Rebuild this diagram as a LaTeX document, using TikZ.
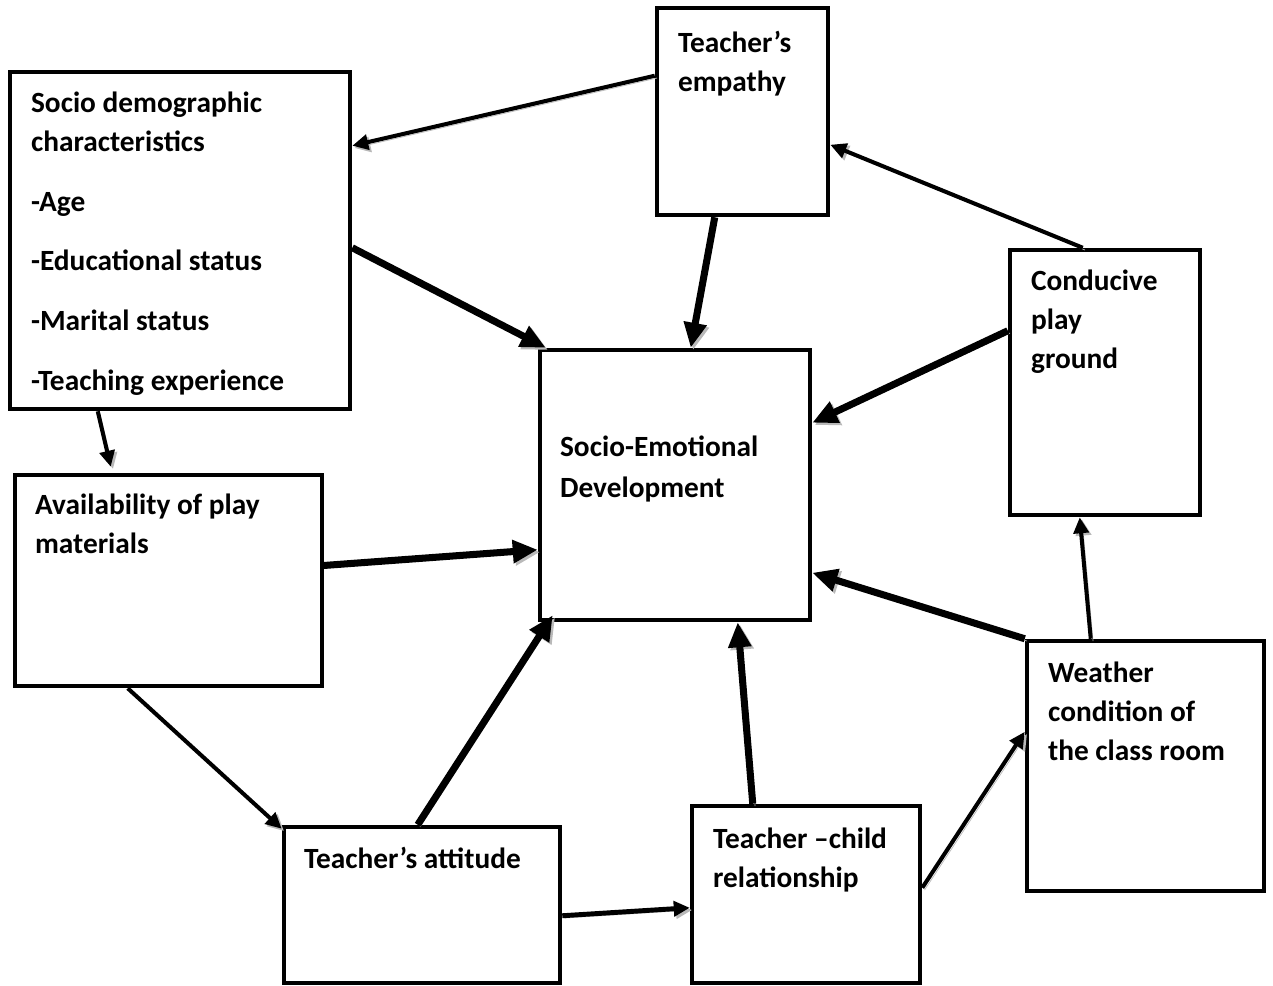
\documentclass[tikz,border=0pt]{standalone}
\usepackage{fontspec}
\setmainfont{Carlito}
\usetikzlibrary{arrows.meta,calc}

\begin{document}
\begin{tikzpicture}[x=0.02cm,y=-0.02cm,
  box/.style={draw,line width=2.6pt,rectangle,inner sep=0},
  txt/.style={anchor=north west,align=left,inner sep=0,font=\fontsize{16.7}{22}\selectfont\bfseries},
  arrow/.style={-{Triangle[length=5mm,width=4.4mm]},line width=4pt,
    preaction={draw=gray!55,transform canvas={shift={(1.3pt,-1.3pt)}}}},
  thinarrow/.style={arrow,-{Triangle[length=3.2mm,width=3mm]},line width=2.3pt}]
\useasboundingbox (0,0) rectangle (1273,985);
\node[box,minimum width=6.8cm,minimum height=6.74cm] (socio) at (180,240.5) {};
\node[box,minimum width=3.42cm,minimum height=4.14cm] (emp) at (742.5,111.5) {};
\node[box,minimum width=5.4cm,minimum height=5.4cm] (sed) at (675,485) {};
\node[box,minimum width=3.8cm,minimum height=5.3cm] (cond) at (1105,382.5) {};
\node[box,minimum width=6.14cm,minimum height=4.22cm] (avail) at (168.5,580.5) {};
\node[box,minimum width=4.74cm,minimum height=5cm] (weather) at (1145.5,766) {};
\node[box,minimum width=5.52cm,minimum height=3.12cm] (att) at (422,905) {};
\node[box,minimum width=4.56cm,minimum height=3.54cm] (tcr) at (806,894.5) {};
\node[txt] (socio-t) at ([shift={(23,22)}]socio.north west) {Socio demographic\\characteristics\\[12pt]-Age\\[12pt]-Educational status\\[12pt]-Marital status\\[12pt]-Teaching experience};
\node[txt] (emp-t) at ([shift={(23,25)}]emp.north west) {Teacher’s\\empathy};
\node[txt] (sed-t) at ([shift={(22,88)}]sed.north west) {Socio-Emotional\\[1pt]Development};
\node[txt] (cond-t) at ([shift={(23,22)}]cond.north west) {Conducive\\play\\ground};
\node[txt] (avail-t) at ([shift={(22,21)}]avail.north west) {Availability of play\\materials};
\node[txt] (weather-t) at ([shift={(23,23)}]weather.north west) {Weather\\condition of\\the class room};
\node[txt] (att-t) at ([shift={(22,22)}]att.north west) {Teacher’s attitude};
\node[txt] (tcr-t) at ([shift={(23,24)}]tcr.north west) {Teacher –child\\relationship};
\draw[thinarrow] ([shift={(0,70)}]emp.north west) -- ([shift={(0,76)}]socio.north east);
\draw[arrow] ([shift={(0,178)}]socio.north east) -- ([shift={(8,0)}]sed.north west);
\draw[arrow] ([shift={(60,0)}]emp.south west) -- ([shift={(153,0)}]sed.north west);
\draw[thinarrow] ([shift={(75,0)}]cond.north west) -- ([shift={(0,139)}]emp.north east);
\draw[arrow] ([shift={(0,83)}]cond.north west) -- ([shift={(0,75)}]sed.north east);
\draw[thinarrow] ([shift={(90,0)}]socio.south west) -- ([shift={(98,-6)}]avail.north west);
\draw[arrow] ([shift={(-4,93)}]avail.north east) -- ([shift={(0,202)}]sed.north west);
\draw[thinarrow] ([shift={(115,0)}]avail.south west) -- ([shift={(0,4)}]att.north west);
\draw[arrow] ([shift={(136,0)}]att.north west) -- ([shift={(15,-7)}]sed.south west);
\draw[arrow] ([shift={(63,0)}]tcr.north west) -- ([shift={(200,0)}]sed.south west);
\draw[thinarrow,line width=2.8pt] ([shift={(0,91)}]att.north east) -- ([shift={(0,104)}]tcr.north west);
\draw[thinarrow] ([shift={(0,84)}]tcr.north east) -- ([shift={(0,93)}]weather.north west);
\draw[arrow] (weather.north west) -- ([shift={(0,225)}]sed.north east);
\draw[thinarrow] ([shift={(66,0)}]weather.north west) -- ([shift={(72,0)}]cond.south west);
\end{tikzpicture}
\end{document}
